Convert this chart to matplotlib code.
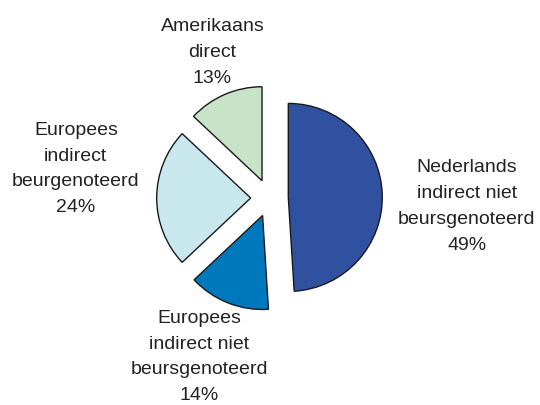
import matplotlib.pyplot as plt

# Verdeling van de portefeuille (procenten)
categorieen = ['Nederlands\nindirect niet\nbeursgenoteerd',
               'Europees\nindirect niet\nbeursgenoteerd',
               'Europees\nindirect\nbeurgenoteerd',
               'Amerikaans\ndirect']
aandelen = [49, 14, 24, 13]
kleuren = ['#3050A0', '#0078BE', '#C8E8EE', '#C8E4C8']

# label-posities rond de taart (data-eenheden, straal = 1)
label_pos = [(2.10, -0.09), (-0.75, -1.69), (-2.06, 0.31), (-0.606, 1.546)]

plt.rcParams['font.family'] = ['Liberation Sans', 'DejaVu Sans']

fig = plt.figure(figsize=(5.4, 4.05), dpi=100)
ax = fig.add_axes([0, 0, 1, 1])

ax.pie(aandelen, colors=kleuren, startangle=90, counterclock=False,
       explode=[0.2] * len(aandelen), radius=1,
       wedgeprops={'edgecolor': '#1a1a1a', 'linewidth': 1.0})

for naam, pct, (x, y) in zip(categorieen, aandelen, label_pos):
    ax.text(x, y, f'{naam}\n{pct}%', ha='center', va='center',
            multialignment='center', fontsize=14, linespacing=1.67,
            color='#222222')

ax.set_xlim(-269.5 / 94, 270.5 / 94)
ax.set_ylim(-207 / 94, 198 / 94)
ax.set_aspect('auto')
ax.axis('off')

plt.savefig('out.png', dpi=100)
